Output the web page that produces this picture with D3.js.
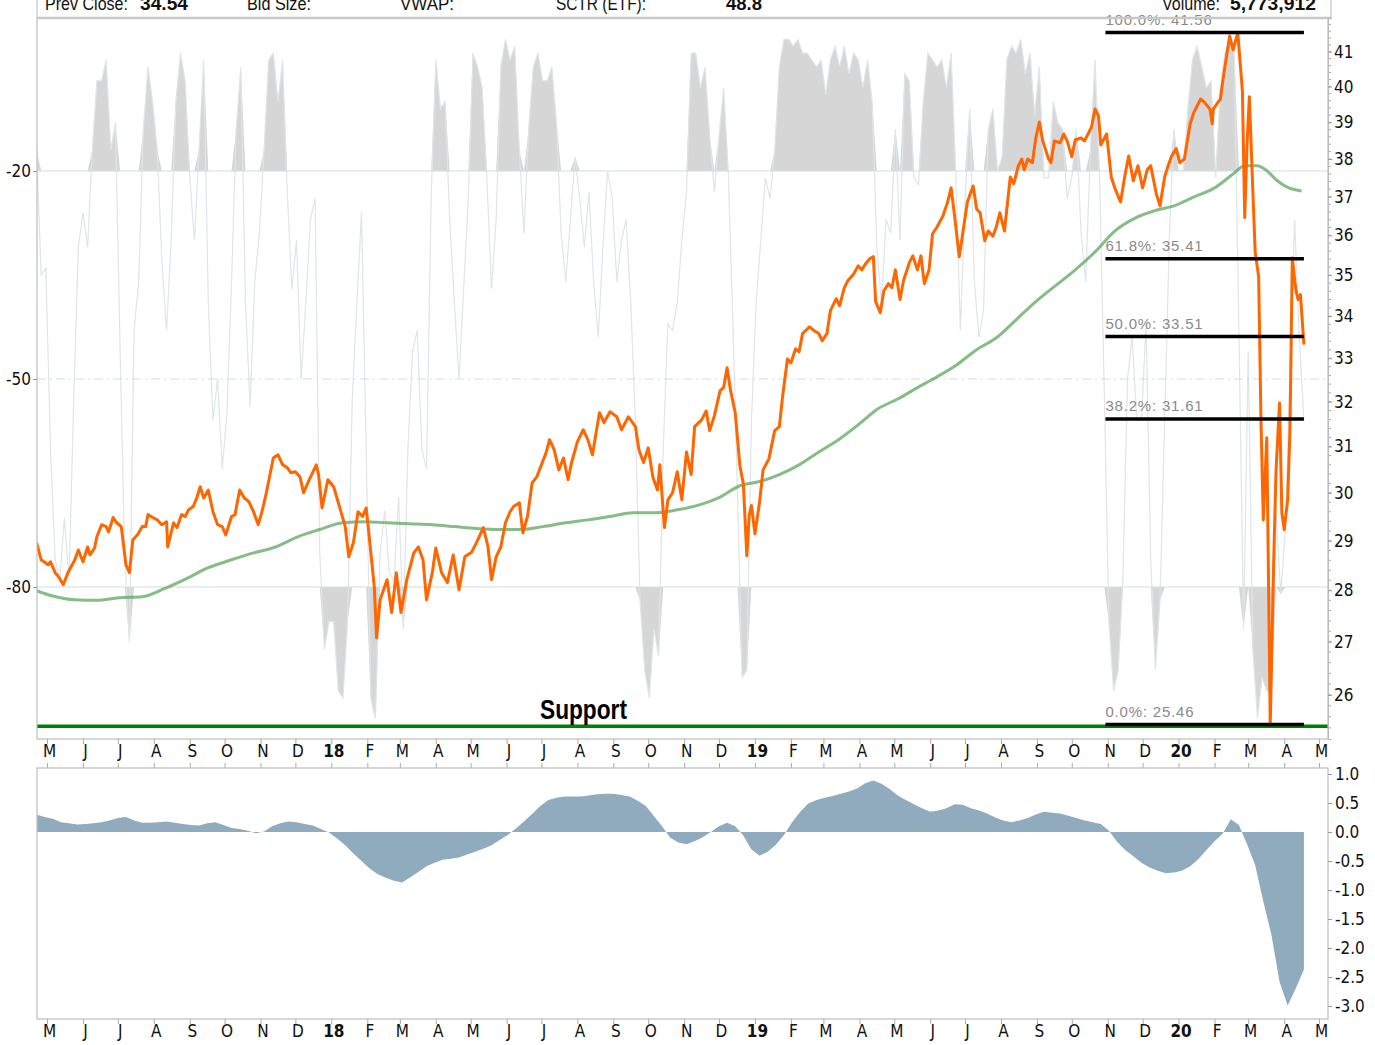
<!DOCTYPE html>
<html>
<head>
<meta charset="utf-8">
<script src="https://cdn.jsdelivr.net/npm/d3@7"></script>
<style>
  body { margin: 0; background: #fff; }
  svg text { font-family: "Liberation Sans Narrow", "Arial Narrow", "DejaVu Sans Condensed", sans-serif; }
</style>
</head>
<body>
<div id="chart"></div>
<script>
// ---- data ----
// daily-ish closes (orange line)
const closeSeries = [
  ["2017-04-22",28.96],["2017-04-26",28.61],["2017-05-02",28.51],["2017-05-04",28.57],["2017-05-08",28.35],
  ["2017-05-11",28.27],["2017-05-15",28.11],["2017-05-19",28.35],["2017-05-25",28.61],["2017-05-28",28.81],
  ["2017-06-01",28.57],["2017-06-05",28.87],["2017-06-07",28.71],["2017-06-11",28.85],["2017-06-13",29.08],
  ["2017-06-17",29.33],["2017-06-21",29.29],["2017-06-23",29.18],["2017-06-27",29.48],["2017-06-30",29.37],
  ["2017-07-04",29.29],["2017-07-08",28.51],["2017-07-11",28.35],["2017-07-14",29.02],["2017-07-18",29.12],
  ["2017-07-22",29.29],["2017-07-25",29.29],["2017-07-27",29.54],["2017-07-31",29.48],["2017-08-04",29.43],
  ["2017-08-08",29.33],["2017-08-12",29.39],["2017-08-13",28.87],["2017-08-18",29.37],["2017-08-21",29.27],
  ["2017-08-25",29.54],["2017-08-28",29.50],["2017-08-31",29.64],["2017-09-04",29.71],["2017-09-07",29.89],
  ["2017-09-10",30.13],["2017-09-13",29.89],["2017-09-17",30.06],["2017-09-21",29.60],["2017-09-25",29.33],
  ["2017-09-29",29.29],["2017-10-02",29.12],["2017-10-07",29.50],["2017-10-10",29.54],["2017-10-14",30.06],
  ["2017-10-18",29.89],["2017-10-22",29.81],["2017-10-26",29.60],["2017-10-30",29.33],["2017-11-02",29.58],
  ["2017-11-06",30.00],["2017-11-12",30.75],["2017-11-16",30.82],["2017-11-20",30.60],["2017-11-24",30.54],
  ["2017-11-27",30.43],["2017-12-01",30.45],["2017-12-05",30.34],["2017-12-08",30.00],["2017-12-13",30.28],
  ["2017-12-19",30.60],["2017-12-21",30.39],["2017-12-24",29.68],["2017-12-29",30.28],["2018-01-03",30.13],
  ["2018-01-07",29.79],["2018-01-13",29.29],["2018-01-16",28.67],["2018-01-20",28.96],["2018-01-24",29.60],
  ["2018-01-28",29.50],["2018-01-31",29.68],["2018-02-02",29.23],["2018-02-07",28.07],["2018-02-09",27.07],
  ["2018-02-12",27.81],["2018-02-18",28.21],["2018-02-22",27.56],["2018-02-26",28.35],["2018-03-02",27.56],
  ["2018-03-07",28.21],["2018-03-13",28.75],["2018-03-17",28.87],["2018-03-21",28.61],["2018-03-24",27.81],
  ["2018-03-29",28.35],["2018-04-01",28.85],["2018-04-06",28.35],["2018-04-11",28.15],["2018-04-16",28.71],
  ["2018-04-21",28.01],["2018-04-26",28.67],["2018-05-02",28.77],["2018-05-06",28.96],["2018-05-12",29.27],
  ["2018-05-16",28.87],["2018-05-19",28.21],["2018-05-23",28.67],["2018-05-27",28.87],["2018-05-31",29.37],
  ["2018-06-04",29.60],["2018-06-07",29.71],["2018-06-12",29.79],["2018-06-15",29.16],["2018-06-19",29.50],
  ["2018-06-23",30.21],["2018-06-27",30.34],["2018-07-01",30.60],["2018-07-05",30.86],["2018-07-08",31.15],
  ["2018-07-12",30.93],["2018-07-16",30.49],["2018-07-20",30.75],["2018-07-24",30.28],["2018-07-27",30.65],
  ["2018-08-01",31.10],["2018-08-06",31.37],["2018-08-10",31.15],["2018-08-14",30.82],["2018-08-20",31.75],
  ["2018-08-24",31.53],["2018-08-29",31.77],["2018-09-04",31.66],["2018-09-08",31.37],["2018-09-14",31.66],
  ["2018-09-20",31.44],["2018-09-23",30.93],["2018-09-27",30.65],["2018-10-01",30.97],["2018-10-05",30.34],
  ["2018-10-09",30.06],["2018-10-11",30.60],["2018-10-15",29.27],["2018-10-18",29.85],["2018-10-22",30.00],
  ["2018-10-26",30.45],["2018-10-30",29.85],["2018-11-03",30.88],["2018-11-07",30.39],["2018-11-10",31.44],
  ["2018-11-16",31.59],["2018-11-20",31.79],["2018-11-23",31.35],["2018-11-27",31.68],["2018-12-02",32.25],
  ["2018-12-05",32.32],["2018-12-08",32.78],["2018-12-11",32.25],["2018-12-15",31.75],["2018-12-19",30.58],
  ["2018-12-22",30.19],["2018-12-25",28.69],["2018-12-27",29.52],["2018-12-29",29.73],["2019-01-01",29.14],
  ["2019-01-05",29.81],["2019-01-08",30.49],["2019-01-13",30.73],["2019-01-18",31.35],["2019-01-22",31.44],
  ["2019-01-25",32.16],["2019-01-29",32.98],["2019-02-01",32.89],["2019-02-05",33.22],["2019-02-08",33.15],
  ["2019-02-11",33.58],["2019-02-17",33.74],["2019-02-21",33.65],["2019-02-25",33.58],["2019-02-28",33.41],
  ["2019-03-04",33.58],["2019-03-07",34.13],["2019-03-12",34.42],["2019-03-15",34.25],["2019-03-19",34.69],
  ["2019-03-22",34.86],["2019-03-27",35.03],["2019-03-31",35.23],["2019-04-03",35.13],["2019-04-07",35.31],
  ["2019-04-10",35.41],["2019-04-13",35.46],["2019-04-15",34.35],["2019-04-19",34.08],["2019-04-22",34.61],
  ["2019-04-26",34.79],["2019-04-29",34.69],["2019-05-02",35.13],["2019-05-06",34.40],["2019-05-09",34.86],
  ["2019-05-14",35.31],["2019-05-17",35.48],["2019-05-21",35.13],["2019-05-24",35.48],["2019-05-27",34.79],
  ["2019-05-31",35.13],["2019-06-03",36.04],["2019-06-07",36.22],["2019-06-12",36.50],["2019-06-16",36.86],
  ["2019-06-19",37.23],["2019-06-22",36.50],["2019-06-26",35.46],["2019-06-29",36.04],["2019-07-03",36.86],
  ["2019-07-08",37.28],["2019-07-11",36.68],["2019-07-14",36.58],["2019-07-18",35.86],["2019-07-21",36.11],
  ["2019-07-25",35.98],["2019-07-28",36.22],["2019-07-31",36.58],["2019-08-04",36.11],["2019-08-09",37.52],
  ["2019-08-12",37.34],["2019-08-16",37.82],["2019-08-19",38.00],["2019-08-21",37.71],["2019-08-24",38.00],
  ["2019-08-28",37.90],["2019-08-31",38.57],["2019-09-03",39.01],["2019-09-06",38.49],["2019-09-11",38.00],
  ["2019-09-13",37.90],["2019-09-16",38.49],["2019-09-21",38.44],["2019-09-24",38.68],["2019-09-27",38.49],
  ["2019-10-01",38.06],["2019-10-04",38.52],["2019-10-09",38.57],["2019-10-12",38.49],["2019-10-18",38.87],
  ["2019-10-21",39.37],["2019-10-24",39.18],["2019-10-26",38.38],["2019-10-31",38.68],["2019-11-04",37.52],
  ["2019-11-07",37.23],["2019-11-12",36.86],["2019-11-16",37.60],["2019-11-19",38.08],["2019-11-23",37.42],
  ["2019-11-27",37.82],["2019-12-01",37.23],["2019-12-05",37.71],["2019-12-08",37.82],["2019-12-13",37.05],
  ["2019-12-16",36.76],["2019-12-20",37.52],["2019-12-23",37.82],["2019-12-26",38.08],["2019-12-30",38.28],
  ["2020-01-02",37.90],["2020-01-06",38.00],["2020-01-11",38.96],["2020-01-14",39.26],["2020-01-20",39.65],
  ["2020-01-23",39.57],["2020-01-28",39.37],["2020-01-30",38.96],["2020-01-31",39.37],["2020-02-06",39.65],
  ["2020-02-09",40.36],["2020-02-14",41.46],["2020-02-17",41.05],["2020-02-21",41.56],["2020-02-25",39.88],
  ["2020-02-27",36.45],["2020-02-29",38.38],["2020-03-02",39.71],["2020-03-05",37.15],["2020-03-07",35.58],
  ["2020-03-10",34.96],["2020-03-12",31.59],["2020-03-14",29.43],["2020-03-17",31.19],["2020-03-20",25.46],
  ["2020-03-23",28.61],["2020-03-25",30.49],["2020-03-28",31.97],["2020-03-30",29.58],["2020-04-01",29.23],
  ["2020-04-04",29.85],["2020-04-06",31.37],["2020-04-08",35.43],["2020-04-11",34.64],["2020-04-13",34.40],
  ["2020-04-15",34.52],["2020-04-18",33.32]
];

// 200-day moving average (green)
const maSeries = [
  ["2017-04-22",27.99],["2017-05-05",27.89],["2017-05-25",27.81],["2017-06-13",27.80],["2017-07-02",27.85],
  ["2017-07-22",27.87],["2017-08-10",28.03],["2017-08-29",28.23],["2017-09-17",28.45],["2017-10-07",28.61],
  ["2017-10-26",28.75],["2017-11-14",28.87],["2017-12-03",29.08],["2017-12-22",29.23],["2018-01-11",29.37],
  ["2018-01-30",29.39],["2018-02-18",29.37],["2018-03-09",29.35],["2018-03-29",29.33],["2018-04-17",29.29],
  ["2018-05-06",29.25],["2018-05-26",29.23],["2018-06-13",29.23],["2018-07-02",29.29],["2018-07-22",29.37],
  ["2018-08-10",29.43],["2018-08-29",29.50],["2018-09-18",29.58],["2018-10-07",29.58],["2018-10-26",29.64],
  ["2018-11-15",29.75],["2018-12-02",29.91],["2018-12-19",30.15],["2019-01-05",30.24],["2019-01-22",30.39],
  ["2019-02-08",30.60],["2019-02-25",30.88],["2019-03-14",31.15],["2019-03-31",31.48],["2019-04-17",31.84],
  ["2019-05-04",32.06],["2019-05-21",32.32],["2019-06-07",32.57],["2019-06-24",32.85],["2019-07-11",33.20],
  ["2019-07-28",33.48],["2019-08-14",33.91],["2019-08-31",34.35],["2019-09-17",34.74],["2019-10-04",35.13],
  ["2019-10-21",35.58],["2019-11-07",36.11],["2019-11-25",36.45],["2019-12-11",36.63],["2019-12-28",36.76],
  ["2020-01-14",36.99],["2020-02-01",37.23],["2020-02-17",37.60],["2020-02-27",37.82],["2020-03-09",37.82],
  ["2020-03-16",37.71],["2020-03-26",37.42],["2020-04-05",37.23],["2020-04-16",37.15]
];

// Williams %R behind the price, sampled every 4 days from wprStart
const wprStart = "2017-04-22";
const wprStepDays = 4;
const wprValues = [
  -17,-35,-34,-60,-76,-79,-70,-79,-53,-31,-26,-31,-17,-7,-7,-4,-17,-13,-46,-76,
  -88,-43,-36,-14,-5,-10,-17,-33,-43,-30,-10,-3,-7,-21,-30,-17,-4,-39,-56,-50,
  -63,-55,-36,-14,-5,-39,-54,-36,-29,-17,-4,-3,-10,-4,-23,-37,-30,-50,-39,-27,
  -24,-75,-89,-85,-85,-95,-96,-85,-53,-39,-26,-60,-96,-99,-75,-69,-78,-79,-67,-86,
  -60,-46,-43,-60,-63,-24,-4,-11,-10,-27,-39,-50,-37,-24,-3,-5,-8,-21,-37,-27,
  -5,-1,-4,-2,-17,-29,-14,-5,-3,-7,-7,-5,-13,-29,-36,-27,-18,-24,-31,-23,
  -36,-44,-31,-20,-24,-36,-30,-27,-39,-56,-82,-92,-96,-86,-90,-60,-42,-43,-39,-30,
  -23,-3,-3,-8,-5,-15,-23,-15,-8,-20,-42,-67,-93,-92,-56,-39,-30,-21,-24,-17,
  -5,-1,-1,-2,-1,-3,-3,-4,-5,-4,-9,-4,-2,-5,-2,-6,-3,-4,-8,-4,
  -10,-31,-39,-27,-29,-14,-30,-6,-7,-21,-22,-10,-3,-4,-5,-4,-8,-3,-20,-43,
  -24,-11,-36,-44,-40,-14,-11,-20,-18,-4,-2,-3,-1,-6,-3,-12,-5,-21,-21,-10,
  -13,-14,-24,-21,-14,-29,-36,-17,-4,-21,-52,-85,-95,-92,-79,-50,-44,-56,-56,-42,
  -76,-92,-82,-56,-30,-14,-20,-20,-11,-4,-2,-5,-8,-7,-21,-8,-3,-1,-3,-43,
  -86,-46,-89,-99,-93,-95,-95,-69,-81,-72,-49,-27,-44,-56
];

// lower panel oscillator, weekly from histStart
const histStart = "2017-04-22";
const histStepDays = 7;
const histValues = [
  0.30,0.26,0.23,0.17,0.15,0.13,0.14,0.15,0.17,0.20,0.24,0.26,0.20,0.16,0.16,0.17,0.18,0.16,0.14,0.12,
  0.11,0.15,0.17,0.12,0.07,0.05,0.02,-0.02,0.01,0.10,0.15,0.18,0.17,0.14,0.11,0.05,-0.01,-0.11,-0.23,-0.37,
  -0.50,-0.63,-0.73,-0.79,-0.84,-0.87,-0.78,-0.69,-0.59,-0.53,-0.48,-0.46,-0.44,-0.39,-0.34,-0.29,-0.23,-0.14,-0.05,0.06,
  0.18,0.31,0.45,0.55,0.59,0.61,0.61,0.61,0.63,0.65,0.66,0.66,0.64,0.61,0.54,0.45,0.27,0.10,-0.10,-0.18,
  -0.21,-0.16,-0.09,0.00,0.10,0.16,0.10,-0.06,-0.30,-0.41,-0.34,-0.22,-0.05,0.17,0.35,0.49,0.55,0.59,0.62,0.66,
  0.70,0.75,0.84,0.89,0.83,0.74,0.63,0.55,0.48,0.41,0.35,0.37,0.41,0.48,0.47,0.41,0.37,0.32,0.25,0.20,
  0.17,0.20,0.24,0.30,0.35,0.33,0.32,0.28,0.24,0.20,0.17,0.14,0.02,-0.17,-0.31,-0.42,-0.53,-0.61,-0.67,-0.71,
  -0.70,-0.67,-0.59,-0.47,-0.31,-0.16,-0.03,0.22,0.12,-0.21,-0.57,-1.20,-1.77,-2.58,-2.99,-2.70,-2.37
];

// Fibonacci retracement levels and support
const fibLabels = ["100.0%", "61.8%", "50.0%", "38.2%", "0.0%"];
const fibValues = [41.56, 35.41, 33.51, 31.61, 25.46];
const fibFrom = "2019-10-30", fibTo = "2020-04-18";
const supportLevel = 25.43;

// axis ticks
const priceTicks = [26,27,28,29,30,31,32,33,34,35,36,37,38,39,40,41];
const wprTicks = [-20, -50, -80];
const histTicks = [1.0, 0.5, 0.0, -0.5, -1.0, -1.5, -2.0, -2.5, -3.0];
const monthLabels = ["M","J","J","A","S","O","N","D","18","F","M","A","M","J","J","A","S","O","N","D",
  "19","F","M","A","M","J","J","A","S","O","N","D","20","F","M","A","M"];

// header quote strip (x and text width as they sit in the reference)
const headerItems = [
  {text: "Prev Close:", x: 45, w: 83, bold: false}, {text: "34.54", x: 140, w: 48, bold: true},
  {text: "Bid Size:", x: 247, w: 64, bold: false}, {text: "VWAP:", x: 400, w: 54, bold: false},
  {text: "SCTR (ETF):", x: 556, w: 90, bold: false}, {text: "48.8", x: 726, w: 36, bold: true},
  {text: "Volume:", x: 1162, w: 58, bold: false}, {text: "5,773,912", x: 1230, w: 86, bold: true}
];

// ---- chart ----
const parse = d3.timeParse("%Y-%m-%d");
const W = 1375, H = 1045;
const pLeft = 37, pRight = 1328, pTop = 18, mainBottom = 739, lowTop = 768, lowBottom = 1019;

const svg = d3.select("#chart").append("svg").attr("width", W).attr("height", H);

const x = d3.scaleTime().domain([new Date(2017, 4, 1), new Date(2020, 4, 1)]).range([47, 1319]);
const yP = d3.scaleLog().domain([25.2, 41.99]).range([mainBottom, pTop]);
const yR = d3.scaleLinear().domain([0, -100]).range([32.3, 725.7]);
const yH = d3.scaleLinear().domain([1, -3]).range([774, 1006]);

const closes = closeSeries.map(d => ({date: parse(d[0]), v: d[1]}));
const ma = maSeries.map(d => ({date: parse(d[0]), v: d[1]}));
const wpr = wprValues.map((v, i) => ({date: d3.timeDay.offset(parse(wprStart), i * wprStepDays), v}));
const hist = histValues.map((v, i) => ({date: d3.timeDay.offset(parse(histStart), i * histStepDays), v}));

const defs = svg.append("defs");
defs.append("clipPath").attr("id", "clipMain").append("rect")
  .attr("x", pLeft).attr("y", pTop).attr("width", pRight - pLeft).attr("height", mainBottom - pTop);
defs.append("clipPath").attr("id", "clipLow").append("rect")
  .attr("x", pLeft).attr("y", lowTop).attr("width", pRight - pLeft).attr("height", lowBottom - lowTop);

// header
svg.append("line").attr("x1", pLeft).attr("x2", pLeft).attr("y1", 0).attr("y2", pTop).attr("stroke", "#bbb");
svg.append("line").attr("x1", pRight + 3).attr("x2", pRight + 3).attr("y1", 0).attr("y2", pTop).attr("stroke", "#bbb");
svg.selectAll("text.hdr").data(headerItems).enter().append("text")
  .attr("class", "hdr")
  .attr("x", d => d.x).attr("y", 10)
  .attr("textLength", d => d.w).attr("lengthAdjust", "spacingAndGlyphs")
  .style("font-family", "'Liberation Sans', Arial, sans-serif")
  .style("font-size", "19px")
  .style("font-weight", d => d.bold ? "bold" : "normal")
  .attr("fill", "#111")
  .text(d => d.text);

// main panel
const main = svg.append("g").attr("clip-path", "url(#clipMain)");

// %R overbought / oversold fills
main.append("path").datum(wpr)
  .attr("fill", "#d6d6d6")
  .attr("d", d3.area().x(d => x(d.date)).y0(yR(-20)).y1(d => yR(Math.max(d.v, -20))));
main.append("path").datum(wpr)
  .attr("fill", "#d6d6d6")
  .attr("d", d3.area().x(d => x(d.date)).y0(yR(-80)).y1(d => yR(Math.min(d.v, -80))));
main.append("path").datum(wpr)
  .attr("fill", "none").attr("stroke", "#dfe5e8").attr("stroke-width", 1.2)
  .attr("d", d3.line().x(d => x(d.date)).y(d => yR(d.v)));

// %R reference lines
main.selectAll("line.grid").data(wprTicks).enter().append("line")
  .attr("class", "grid")
  .attr("x1", pLeft).attr("x2", pRight)
  .attr("y1", d => yR(d)).attr("y2", d => yR(d))
  .attr("stroke", "#d3dddf").attr("stroke-width", 1.2)
  .attr("stroke-dasharray", d => d === -50 ? "9,4,2,4" : null);

// moving average
main.append("path").datum(ma)
  .attr("fill", "none").attr("stroke", "#5da55d").attr("stroke-opacity", 0.75).attr("stroke-width", 3)
  .attr("d", d3.line().curve(d3.curveMonotoneX).x(d => x(d.date)).y(d => yP(d.v)));

// price
main.append("path").datum(closes)
  .attr("fill", "none").attr("stroke", "#ff6600").attr("stroke-width", 3)
  .attr("stroke-linejoin", "round")
  .attr("d", d3.line().x(d => x(d.date)).y(d => yP(d.v)));

// support
main.append("line")
  .attr("x1", pLeft).attr("x2", pRight)
  .attr("y1", yP(supportLevel)).attr("y2", yP(supportLevel))
  .attr("stroke", "#008000").attr("stroke-width", 3.5);

// fib levels
const fx0 = x(parse(fibFrom)), fx1 = x(parse(fibTo));
svg.selectAll("line.fib").data(fibValues).enter().append("line")
  .attr("class", "fib")
  .attr("x1", fx0).attr("x2", fx1)
  .attr("y1", d => yP(d)).attr("y2", d => yP(d))
  .attr("stroke", "#000").attr("stroke-width", 3.5);
svg.selectAll("text.fib").data(fibValues).enter().append("text")
  .attr("class", "fib")
  .attr("x", fx0).attr("y", d => yP(d) - 8)
  .style("font-family", "'Liberation Sans', Arial, sans-serif")
  .style("font-size", "15px").style("letter-spacing", "0.8px")
  .attr("fill", "#8a8a8a")
  .text((d, i) => fibLabels[i] + ": " + d.toFixed(2));

svg.append("text")
  .attr("x", 540).attr("y", 719)
  .attr("textLength", 87).attr("lengthAdjust", "spacingAndGlyphs")
  .style("font-family", "'Liberation Sans', Arial, sans-serif")
  .style("font-size", "27px").style("font-weight", "bold")
  .text("Support");

// frame main
svg.append("rect").attr("x", pLeft).attr("y", pTop).attr("width", pRight - pLeft).attr("height", mainBottom - pTop)
  .attr("fill", "none").attr("stroke", "#bdbdbd").attr("stroke-width", 1.2);
svg.append("line").attr("x1", pLeft).attr("x2", pRight + 3).attr("y1", pTop).attr("y2", pTop)
  .attr("stroke", "#c8c8c8").attr("stroke-width", 2.5);

// right price axis
const minor = d3.range(25.4, 42, 0.2).filter(v => v <= 41.99);
svg.append("g").selectAll("line").data(minor).enter().append("line")
  .attr("x1", pRight).attr("x2", pRight + 3)
  .attr("y1", d => yP(d)).attr("y2", d => yP(d)).attr("stroke", "#aaa");
const pAxis = svg.append("g").attr("transform", `translate(${pRight},0)`)
  .call(d3.axisRight(yP).tickValues(priceTicks).tickFormat(d3.format("d")).tickSize(4).tickPadding(2));
pAxis.select(".domain").attr("stroke", "#bbb");
pAxis.selectAll(".tick line").attr("stroke", "#999");
pAxis.selectAll(".tick text").style("font-size", "17px").attr("fill", "#111");

// left %R labels
const rAxis = svg.append("g").attr("transform", `translate(${pLeft},0)`)
  .call(d3.axisLeft(yR).tickValues(wprTicks).tickFormat(d => String(d)).tickSize(4).tickPadding(2));
rAxis.select(".domain").remove();
rAxis.selectAll(".tick line").attr("stroke", "#999");
rAxis.selectAll(".tick text").style("font-size", "17px").attr("fill", "#111");

// month axes
const monthTicks = d3.timeMonth.range(new Date(2017, 4, 1), new Date(2020, 4, 2));
function monthAxis(y) {
  const g = svg.append("g").attr("transform", `translate(0,${y})`)
    .call(d3.axisBottom(x).tickValues(monthTicks).tickSize(5).tickFormat((d, i) => monthLabels[i]));
  g.select(".domain").remove();
  g.selectAll(".tick line").attr("stroke", "#aaa");
  g.selectAll(".tick text")
    .attr("dx", 2).attr("y", 6).attr("dy", "0.71em")
    .style("font-size", "17px").attr("fill", "#111")
    .style("font-weight", (d, i) => /\d/.test(monthLabels[i]) ? "bold" : "normal");
}
monthAxis(mainBottom);
svg.append("g").attr("transform", `translate(0,${lowTop})`)
  .call(d3.axisTop(x).tickValues(monthTicks).tickSize(5).tickFormat(""))
  .call(g => g.select(".domain").remove())
  .call(g => g.selectAll(".tick line").attr("stroke", "#aaa"));
monthAxis(lowBottom);

// lower panel
const low = svg.append("g").attr("clip-path", "url(#clipLow)");
low.append("path").datum(hist)
  .attr("fill", "#8fabbd")
  .attr("d", d3.area().x(d => x(d.date)).y0(yH(0)).y1(d => yH(d.v)));
svg.append("rect").attr("x", pLeft).attr("y", lowTop).attr("width", pRight - pLeft).attr("height", lowBottom - lowTop)
  .attr("fill", "none").attr("stroke", "#bdbdbd").attr("stroke-width", 1.2);
const hAxis = svg.append("g").attr("transform", `translate(${pRight},0)`)
  .call(d3.axisRight(yH).tickValues(histTicks).tickFormat(d => d.toFixed(1)).tickSize(4).tickPadding(3));
hAxis.select(".domain").remove();
hAxis.selectAll(".tick line").attr("stroke", "#999");
hAxis.selectAll(".tick text").style("font-size", "17px").attr("fill", "#111");
</script>
</body>
</html>
